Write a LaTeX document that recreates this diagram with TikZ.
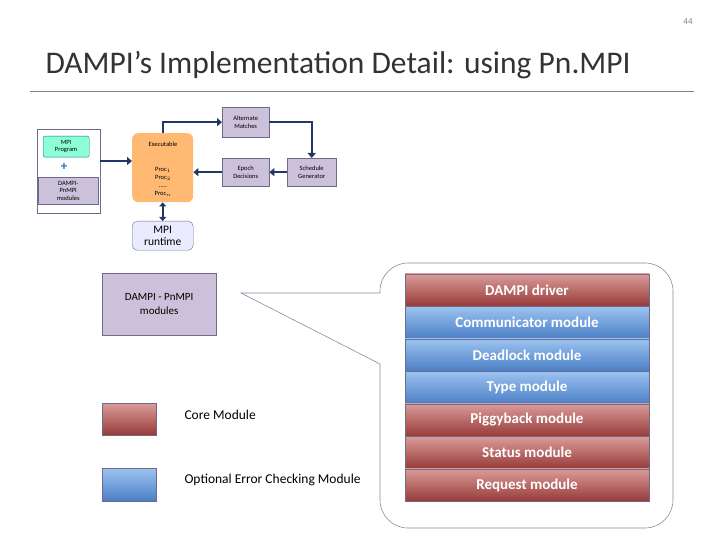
\documentclass[tikz,border=0pt]{standalone}
\usepackage{fontspec}
\setmainfont{Carlito}
\usetikzlibrary{arrows.meta}
\definecolor{lav}{HTML}{CCC1DA}
\definecolor{lavb}{HTML}{6F6A8A}
\definecolor{arr}{HTML}{1F3864}
\definecolor{rtop}{HTML}{DA9C9A}
\definecolor{rbot}{HTML}{973A38}
\definecolor{btop}{HTML}{9DC3F0}
\definecolor{bbot}{HTML}{4A7FC6}
\begin{document}
\begin{tikzpicture}[x=1pt,y=-1pt,
 small/.style={draw=lavb,fill=lav,align=center,font=\fontsize{6.5}{7.5}\selectfont,inner sep=0pt},
 red/.style={draw=lavb,top color=rtop,bottom color=rbot,minimum width=244,minimum height=32.5,inner sep=0pt,text=white,font=\fontsize{15}{17}\selectfont\bfseries},
 blue/.style={red,top color=btop,bottom color=bbot},
 ar/.style={draw=arr,line width=2.2pt,-{Triangle[length=5pt,width=8pt]}}]
\useasboundingbox (0,0) rectangle (720,540);
\node[font=\fontsize{9}{10}\selectfont,text=gray] (pg) at (688,22) {44};
\node[anchor=west,font=\fontsize{31.5}{33}\selectfont,text=black!80] (title) at (42,65) {DAMPI’s Implementation Detail: using Pn.MPI};
\draw[gray,line width=1pt] (30,92) -- (694,92);
% top diagram
\node[draw=lavb,minimum width=63,minimum height=84,anchor=north west] (left) at (37,129) {};
\node[small,fill=green!35!cyan!45,draw=teal,rounded corners=2,minimum width=46,minimum height=21,anchor=north west] (mp) at (43,136) {MPI\\Program};
\node[text=cyan!50!blue,font=\bfseries\fontsize{13}{13}\selectfont] (plus) at (64,167) {+};
\node[small,minimum width=60,minimum height=27,anchor=north west] (dp) at (38,177) {DAMPI-\\PnMPI\\modules};
\node[fill=orange!55,rounded corners=6,minimum width=61,minimum height=69,anchor=north west,inner sep=0pt] (ex) at (132,133) {};
\node[font=\fontsize{6.5}{7.5}\selectfont] (ext) at (163,144) {Executable};
\node[font=\fontsize{6.5}{8}\selectfont,align=center] (procs) at (163,182) {Proc$_1$\\Proc$_2$\\.....\\Proc$_n$};
\node[small,minimum width=47,minimum height=30,anchor=north west] (am) at (222,107) {Alternate\\Matches};
\node[small,minimum width=47,minimum height=28,anchor=north west] (ep) at (222,158) {Epoch\\Decisions};
\node[small,minimum width=49,minimum height=28,anchor=north west] (sg) at (287,158) {Schedule\\Generator};
\node[draw=lavb,fill=blue!8,rounded corners=5,minimum width=61,minimum height=29,anchor=north west,align=center,font=\fontsize{11.5}{12}\selectfont,inner sep=0pt] (rt) at (132,221) {MPI\\runtime};
\draw[ar] (left.east |- 0,161) -- (ex.west |- 0,161);
\draw[ar] (ex.north) |- (am.west);
\draw[ar] (am.east) -| (sg.north);
\draw[ar] (sg.west) -- (ep.east);
\draw[ar] (ep.west) -- (ex.east |- ep.west);
\draw[draw=arr,line width=2.2pt,{Triangle[length=4pt,width=7pt]}-{Triangle[length=4pt,width=7pt]}] (ex.south) -- (rt.north);
% lower part
\node[draw=lavb,fill=lav,minimum width=114,minimum height=62,anchor=north west,align=center,font=\fontsize{11}{14}\selectfont,inner sep=0pt] (dm) at (102,273) {DAMPI - PnMPI\\modules};
\draw[lavb!80,line width=0.6pt] (241,293) -- (380,293) [rounded corners=28] -- (380,263) -- (673,263) -- (673,528) -- (380,528) [sharp corners] -- (380,364) -- cycle;
\node[red] (m1) at (527,290) {DAMPI driver};
\node[blue] (m2) at (527,322.5) {Communicator module};
\node[blue] (m3) at (527,355) {Deadlock module};
\node[blue] (m4) at (527,387.5) {Type module};
\node[red] (m5) at (527,420) {Piggyback module};
\node[red] (m6) at (527,452.5) {Status module};
\node[red] (m7) at (527,485) {Request module};
\node[draw=lavb,top color=rtop,bottom color=rbot,minimum width=54,minimum height=32,anchor=north west] (lr) at (102,403) {};
\node[draw=lavb,top color=btop,bottom color=bbot,minimum width=54,minimum height=33,anchor=north west] (lb) at (102,468) {};
\node[anchor=west,font=\fontsize{13.5}{14}\selectfont] (lrt) at (181,415) {Core Module};
\node[anchor=west,font=\fontsize{13.5}{14}\selectfont] (lbt) at (181,480) {Optional Error Checking Module};
\end{tikzpicture}
\end{document}
